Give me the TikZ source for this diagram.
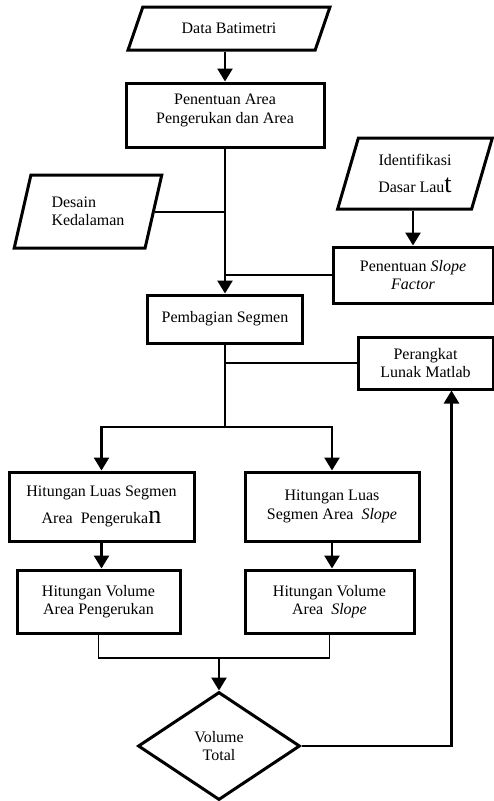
\documentclass[tikz,border=0pt]{standalone}
\usepackage{fontspec}
\setmainfont{Liberation Serif}
\usetikzlibrary{arrows.meta,shapes.geometric}
\newcommand{\bigchar}[1]{{\fontsize{26}{26}\selectfont #1}}
\begin{document}
\begin{tikzpicture}[x=1pt,y=-1pt,font=\fontsize{16}{18.5}\selectfont,
  box/.style={draw,line width=3pt,inner sep=0pt,align=center},
  io/.style={draw,line width=3pt,trapezium,trapezium stretches=true,inner sep=0pt,align=center},
  arr/.style={line width=2.6pt,-{Triangle[width=15pt,length=13pt]}},
  ln/.style={line width=2pt}]
\useasboundingbox (0,0) rectangle (494,801);

\node[io,trapezium left angle=53,trapezium right angle=127,minimum width=202pt,minimum height=43pt] (data) at (229,28.5) {Data Batimetri};
\node[box,minimum width=198pt,minimum height=64pt] (area) at (225,115) {Penentuan Area\\Pengerukan dan Area\\[-6pt]};
\node[io,align=left,trapezium left angle=70,trapezium right angle=110,minimum width=148pt,minimum height=73pt] (desain) at (88,211.5) {Desain\\Kedalaman};
\node[io,trapezium left angle=71,trapezium right angle=109,minimum width=156pt,minimum height=71pt] (ident) at (415,173.5) {Identifikasi\\[9pt]Dasar Lau\bigchar{t}};
\node[box,minimum width=160pt,minimum height=56pt] (slope) at (413,275) {Penentuan \textit{Slope}\\\textit{Factor}};
\node[box,minimum width=155pt,minimum height=48pt] (seg) at (225,319) {Pembagian Segmen};
\node[box,minimum width=135pt,minimum height=52pt] (matlab) at (425.5,363) {Perangkat\\Lunak Matlab};
\node[box,minimum width=185pt,minimum height=69pt] (luasA) at (101.5,506.5) {Hitungan Luas Segmen\\[8pt]Area\enspace Pengeruka\bigchar{n}};
\node[box,minimum width=174pt,minimum height=69pt] (luasB) at (332,506.5) {Hitungan Luas\\Segmen Area\enspace\textit{Slope}};
\node[box,minimum width=163pt,minimum height=63pt] (volA) at (98.5,601.5) {Hitungan Volume\\Area Pengerukan};
\node[box,minimum width=169pt,minimum height=63pt] (volB) at (329.5,601.5) {Hitungan Volume\\Area\enspace\textit{Slope}};
\node[draw,diamond,line width=3pt,inner sep=0pt,align=center,minimum width=162pt,minimum height=108pt] (total) at (219,746) {Volume\\Total};
\coordinate (split) at (225,427);
\coordinate (join) at (219,658);

\draw[arr] (area.north |- data.south) -- (area.north);
\draw[arr] (area.south) -- (seg.north);
\draw[ln] (desain.east) -- (desain.east -| area.south);
\draw[arr] (ident.south -| slope.north) -- (slope.north);
\draw[ln] (slope.west) -- (slope.west -| area.south);
\draw[ln] (seg.south) -- (split);
\draw[ln] (matlab.west) -- (matlab.west -| seg.south);
\draw[arr] (split) -| (luasA.north);
\draw[arr] (split) -| (luasB.north);
\draw[arr] (luasA.south) -- (luasA.south |- volA.north);
\draw[arr] (luasB.south) -- (luasB.south |- volB.north);
\draw[line width=1.6pt] (volA.south) |- (join) -| (volB.south);
\draw[arr] (join) -- (total.north);
\draw[arr] (total.east) -| ([xshift=-43pt]matlab.south east);
\end{tikzpicture}
\end{document}
